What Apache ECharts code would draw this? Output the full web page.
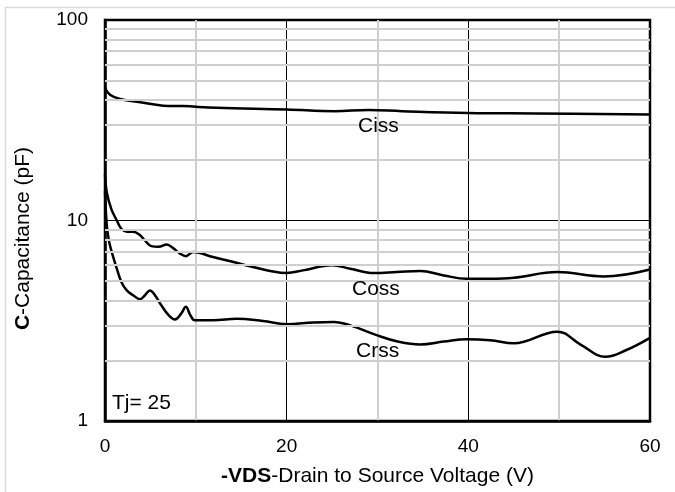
<!DOCTYPE html>
<html>
<head>
<meta charset="utf-8">
<script src="https://cdn.jsdelivr.net/npm/echarts@6/dist/echarts.min.js"></script>
<style>html,body{margin:0;padding:0;background:#fff}#c{width:675px;height:492px}</style>
</head>
<body>
<div id="c"></div>
<script>
// Data
var cissV = [0, 0.55, 1.65, 3.85, 6.4, 8.6, 12.3, 20, 25.3, 29, 32.7, 40, 47.4, 60];
var cissC = [45.8, 42.4, 40.4, 38.9, 37.4, 37.2, 36.5, 35.8, 35.1, 35.6, 35.1, 34.4, 34.2, 33.8];

var cossV = [0, 0.2, 0.7, 1.3, 1.8, 2.4, 3.1, 3.8, 4.4, 5.1, 5.9, 6.8, 7.5, 8.3, 8.9, 9.7, 11.9, 15.6, 18.5, 20, 21.8, 25, 27, 29.6, 32.1, 34.7, 37.3, 39.8, 42.4, 45, 49.8, 54.9, 60];
var cossC = [17, 13.8, 11.4, 10, 9.1, 8.8, 8.8, 8.5, 7.95, 7.45, 7.4, 7.6, 7.28, 6.82, 6.64, 6.96, 6.57, 5.97, 5.57, 5.47, 5.64, 5.98, 5.75, 5.47, 5.53, 5.6, 5.32, 5.12, 5.12, 5.18, 5.53, 5.26, 5.7];

var crssV = [0, 0.2, 0.4, 0.55, 0.85, 1.3, 1.8, 2.4, 3.1, 3.85, 4.4, 4.95, 5.5, 6.2, 7.0, 7.7, 8.4, 8.9, 9.4, 9.9, 11.9, 14.5, 17.4, 20, 22.9, 25.2, 27, 29.9, 32.1, 34.7, 37.3, 39.8, 42.4, 45, 49.8, 52.4, 55.1, 57.4, 60];
var crssC = [14, 9.4, 8.1, 7.5, 6.7, 5.75, 4.94, 4.48, 4.24, 4.05, 4.24, 4.48, 4.24, 3.78, 3.37, 3.21, 3.44, 3.71, 3.37, 3.18, 3.18, 3.24, 3.15, 3.04, 3.1, 3.12, 3.0, 2.68, 2.5, 2.41, 2.49, 2.56, 2.53, 2.44, 2.79, 2.4, 2.09, 2.26, 2.6];

var minorYLines = [2, 3, 4, 5, 6, 7, 8, 9, 20, 30, 40, 50, 60, 70, 80, 90];
var curveLabels = ['Ciss', 'Coss', 'Crss'];
var noteText = 'Tj= 25';

function zip(a, b) { return a.map(function (v, i) { return [v, b[i]]; }); }

var FONT = '"Liberation Sans", Arial, sans-serif';
var chart = echarts.init(document.getElementById('c'), null, { renderer: 'canvas' });

function curve(name, v, c) {
  return {
    name: name, type: 'line', data: zip(v, c), smooth: 0.4, symbol: 'none', z: 3,
    lineStyle: { color: '#000', width: 2.5 }, silent: true
  };
}

chart.setOption({
  animation: false,
  backgroundColor: '#fff',
  grid: { left: 105, top: 20, right: 25, bottom: 69, show: true, borderColor: '#000', borderWidth: 2.5, backgroundColor: 'transparent' },
  xAxis: {
    type: 'value', min: 0, max: 60, interval: 20,
    name: '{b|-VDS}-Drain to Source Voltage (V)', nameLocation: 'middle', nameGap: 45,
    nameTextStyle: { fontFamily: FONT, fontSize: 21, color: '#000', rich: { b: { fontFamily: FONT, fontSize: 21, fontWeight: 'bold', color: '#000' } } },
    axisLine: { show: true, lineStyle: { color: '#000', width: 2.5 } },
    axisTick: { show: false },
    axisLabel: { fontFamily: FONT, fontSize: 19, color: '#000', margin: 16 },
    splitLine: { show: true, lineStyle: { color: '#000', width: 1 } },
    minorTick: { show: false, splitNumber: 2 },
    minorSplitLine: { show: true, lineStyle: { color: '#cfcfcf', width: 2 } }
  },
  yAxis: {
    type: 'log', logBase: 10, min: 1, max: 100,
    name: '{b|C}-Capacitance (pF)', nameLocation: 'middle', nameGap: 71,
    nameTextStyle: { fontFamily: FONT, fontSize: 21, color: '#000', padding: [0, 36, 0, 0], rich: { b: { fontFamily: FONT, fontSize: 21, fontWeight: 'bold', color: '#000' } } },
    axisLine: { show: true, lineStyle: { color: '#000', width: 2.5 } },
    axisTick: { show: false },
    axisLabel: { fontFamily: FONT, fontSize: 19, color: '#000', margin: 17 },
    splitLine: { show: true, lineStyle: { color: '#000', width: 1 } }
  },
  series: [
    {
      type: 'line', data: [], z: 1, silent: true,
      markLine: {
        silent: true, symbol: 'none', label: { show: false }, animation: false,
        lineStyle: { color: '#cfcfcf', width: 2, type: 'solid' },
        emphasis: { disabled: true },
        data: minorYLines.map(function (v) { return { yAxis: v }; })
      }
    },
    curve('Ciss', cissV, cissC),
    curve('Coss', cossV, cossC),
    curve('Crss', crssV, crssC)
  ],
  graphic: [
    { type: 'rect', left: 3, top: 5, shape: { width: 700, height: 520 }, style: { fill: 'none', stroke: '#dadada', lineWidth: 1.5 }, silent: true, z: -1 },
    { type: 'text', left: 358, top: 116, style: { text: curveLabels[0], font: '21px ' + FONT, fill: '#000' }, z: 10 },
    { type: 'text', left: 352, top: 279, style: { text: curveLabels[1], font: '21px ' + FONT, fill: '#000' }, z: 10 },
    { type: 'text', left: 356, top: 341, style: { text: curveLabels[2], font: '21px ' + FONT, fill: '#000' }, z: 10 },
    { type: 'text', left: 112, top: 393, style: { text: noteText, font: '21px ' + FONT, fill: '#000' }, z: 10 }
  ]
});
</script>
</body>
</html>
